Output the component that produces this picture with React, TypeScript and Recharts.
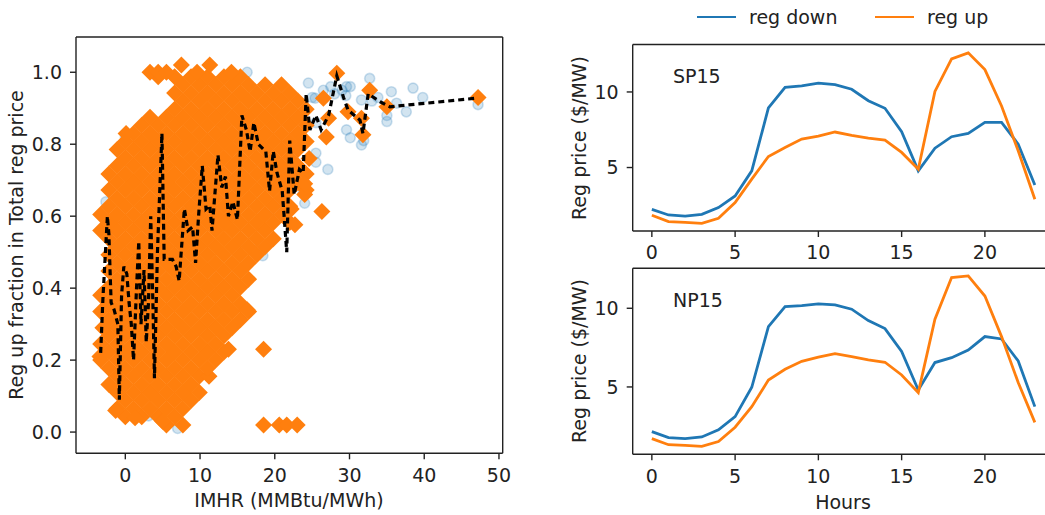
import React from "react";
import { ScatterChart, Scatter, LineChart, Line, XAxis, YAxis, ReferenceLine } from "recharts";

const FONT = "DejaVu Sans";
const INK = "#222";
const BLUE = "#1f77b4";
const ORANGE = "#ff7f0e";

// ---- right panels: hourly mean regulation prices ($/MW)
const hours = [0, 1, 2, 3, 4, 5, 6, 7, 8, 9, 10, 11, 12, 13, 14, 15, 16, 17, 18, 19, 20, 21, 22, 23];
const sp15RegDown = [2.23, 1.86, 1.79, 1.9, 2.35, 3.12, 4.78, 8.94, 10.31, 10.4, 10.58, 10.49, 10.18, 9.42, 8.92, 7.37, 4.78, 6.28, 7.04, 7.26, 7.99, 7.99, 6.55, 3.85];
const sp15RegUp = [1.84, 1.42, 1.37, 1.31, 1.64, 2.68, 4.23, 5.73, 6.33, 6.88, 7.08, 7.35, 7.12, 6.95, 6.81, 6.0, 4.89, 10.04, 12.19, 12.59, 11.48, 9.07, 6.11, 2.9];
const np15RegDown = [2.16, 1.78, 1.72, 1.82, 2.27, 3.11, 4.98, 8.83, 10.11, 10.17, 10.28, 10.21, 9.94, 9.22, 8.71, 7.25, 4.81, 6.55, 6.86, 7.35, 8.2, 8.05, 6.65, 3.75];
const np15RegUp = [1.72, 1.33, 1.29, 1.23, 1.53, 2.44, 3.75, 5.44, 6.12, 6.63, 6.89, 7.12, 6.93, 6.72, 6.57, 5.76, 4.64, 9.3, 11.95, 12.06, 10.78, 8.2, 5.28, 2.75];
const priceTicks = [5, 10];
const hourTicks = [0, 5, 10, 15, 20];

// ---- left panel: reg up fraction vs IMHR
const imhrTicks = [0, 10, 20, 30, 40, 50];
const fracTicks = [0, 0.2, 0.4, 0.6, 0.8, 1.0];

// all hours (mostly hidden under the orange markers)
const allHours: [number, number][] = [
  [-2.6, 0.64], [-3.0, 0.6], [0.0, 0.82], [1.5, 0.79], [-1.6, 0.48], [3.1, 0.045], [7.0, 0.01], [5.5, 0.02],
  [14.2, 0.99], [16.3, 1.0], [15.3, 0.52], [18.0, 0.52], [18.4, 0.49], [19.3, 0.6], [20.3, 0.63], [21.0, 0.72],
  [22.3, 0.75], [22.8, 0.72], [23.8, 0.665], [24.0, 0.636], [24.5, 0.97], [25.0, 0.93], [25.4, 0.928], [25.5, 0.86],
  [25.5, 0.775], [25.5, 0.75], [27.1, 0.73], [26.5, 0.95], [27.5, 0.96], [28.0, 0.94], [29.0, 0.95], [29.6, 0.96],
  [30.1, 0.96], [29.5, 0.935], [31.6, 0.923], [32.7, 0.983], [33.0, 0.92], [33.8, 0.93], [35.6, 0.946], [36.3, 0.914],
  [35.0, 0.88], [35.0, 0.863], [37.6, 0.89], [38.5, 0.956], [39.8, 0.93], [47.2, 0.91], [29.6, 0.84], [30.1, 0.818],
  [31.6, 0.798], [31.9, 0.81], [10.5, 0.3], [12.0, 0.6], [8.0, 0.8],
];

const selRowFrac = [
  0.02, 0.0425, 0.065, 0.0875, 0.11, 0.1325, 0.155, 0.1775, 0.2, 0.2225, 0.245, 0.2675, 0.29, 0.3125, 0.335,
  0.3575, 0.38, 0.4025, 0.425, 0.4475, 0.47, 0.4925, 0.515, 0.5375, 0.56, 0.5825, 0.605, 0.6275, 0.65, 0.6725,
  0.695, 0.7175, 0.74, 0.7625, 0.785, 0.8075, 0.83, 0.8525, 0.875, 0.8975, 0.92, 0.9425, 0.965, 0.9875, 1.0,
];
const selRowImhr = [
  [5.5, 7.7],
  [0, 2.2, 4.4, 6.6],
  [-1.1, 1.1, 3.3, 5.5, 7.7],
  [0, 2.2, 4.4, 6.6, 8.8],
  [-1.1, 1.1, 3.3, 5.5, 7.7, 9.9],
  [-2.2, 0, 2.2, 4.4, 6.6, 8.8],
  [-1.1, 1.1, 3.3, 5.5, 7.7, 9.9, 11.2],
  [-2.2, 0, 2.2, 4.4, 6.6, 8.8, 11],
  [-3.3, -1.1, 1.1, 3.3, 5.5, 7.7, 9.9, 12.1],
  [-2.2, 0, 2.2, 4.4, 6.6, 8.8, 11, 13.2],
  [-3.3, -1.1, 1.1, 3.3, 5.5, 7.7, 9.9, 12.1],
  [-2.2, 0, 2.2, 4.4, 6.6, 8.8, 11, 13.2],
  [-3.0, -1.1, 1.1, 3.3, 5.5, 7.7, 9.9, 12.1, 14.3],
  [-2.2, 0, 2.2, 4.4, 6.6, 8.8, 11, 13.2, 15.4],
  [-3.3, -1.1, 1.1, 3.3, 5.5, 7.7, 9.9, 12.1, 14.3, 16.5],
  [-2.2, 0, 2.2, 4.4, 6.6, 8.8, 11, 13.2, 15.4],
  [-3.3, -1.1, 1.1, 3.3, 5.5, 7.7, 9.9, 12.1, 14.3],
  [-2.2, 0, 2.2, 4.4, 6.6, 8.8, 11, 13.2, 15.4],
  [-1.1, 1.1, 3.3, 5.5, 7.7, 9.9, 12.1, 14.3, 16.5],
  [-2.2, 0, 2.2, 4.4, 6.6, 8.8, 11, 13.2, 15.4],
  [-1.1, 1.1, 3.3, 5.5, 7.7, 9.9, 12.1, 14.3, 16.5],
  [-2.2, 0, 2.2, 4.4, 6.6, 8.8, 11, 13.2, 15.4, 17.6],
  [-1.1, 1.1, 3.3, 5.5, 7.7, 9.9, 12.1, 14.3, 16.5, 18.7],
  [-2.2, 0, 2.2, 4.4, 6.6, 8.8, 11, 13.2, 15.4, 17.6, 19.8],
  [-3.3, -1.1, 1.1, 3.3, 5.5, 7.7, 9.9, 12.1, 14.3, 16.5, 18.7],
  [-2.2, 0, 2.2, 4.4, 6.6, 8.8, 11, 13.2, 15.4, 17.6, 19.8, 22],
  [-3.3, -1.1, 1.1, 3.3, 5.5, 7.7, 9.9, 12.1, 14.3, 16.5, 18.7, 20.9],
  [-2.2, 0, 2.2, 4.4, 6.6, 8.8, 11, 13.2, 15.4, 17.6, 19.8, 22],
  [-1.1, 1.1, 3.3, 5.5, 7.7, 9.9, 12.1, 14.3, 16.5, 18.7, 20.9],
  [-2.2, 0, 2.2, 4.4, 6.6, 8.8, 11, 13.2, 15.4, 17.6, 19.8, 22, 24.2],
  [-1.1, 1.1, 3.3, 5.5, 7.7, 9.9, 12.1, 14.3, 16.5, 18.7, 20.9, 23.1],
  [-2.2, 0, 2.2, 4.4, 6.6, 8.8, 11, 13.2, 15.4, 17.6, 19.8, 22, 24.2],
  [-1.1, 1.1, 3.3, 5.5, 7.7, 9.9, 12.1, 14.3, 16.5, 18.7, 20.9, 23.1],
  [0, 2.2, 4.4, 6.6, 8.8, 11, 13.2, 15.4, 17.6, 19.8, 22],
  [-1.1, 1.1, 3.3, 5.5, 7.7, 9.9, 12.1, 14.3, 16.5, 18.7, 20.9, 23.1],
  [0, 2.2, 4.4, 6.6, 8.8, 11, 13.2, 15.4, 17.6, 19.8, 22, 24.2],
  [1.1, 3.3, 5.5, 7.7, 9.9, 12.1, 14.3, 16.5, 18.7, 20.9, 23.1],
  [2.2, 4.4, 6.6, 8.8, 11, 13.2, 15.4, 17.6, 19.8, 22, 24.2],
  [3.3, 5.5, 7.7, 9.9, 12.1, 14.3, 16.5, 18.7, 20.9, 23.1],
  [6.6, 8.8, 11, 13.2, 15.4, 17.6, 19.8, 22, 24.2],
  [7.7, 9.9, 12.1, 14.3, 16.5, 18.7, 20.9, 23.1],
  [6.6, 8.8, 11, 13.2, 15.4, 17.6, 19.8, 22],
  [7.7, 9.9, 12.1, 14.3, 16.5, 18.7, 20.9],
  [4.4, 6.6, 8.8, 11, 13.2, 15.4],
  [3.3, 4.4, 5.5, 9.6],
];
const selOutliers: [number, number][] = [
  [0.1, 0.83], [-3.4, 0.21], [-1.3, 0.06], [1.3, 0.04], [5.0, 0.03], [7.5, 1.02], [11.3, 1.02], [14.2, 1.0],
  [13.8, 0.23], [16.3, 0.34], [18.5, 0.02], [20.6, 0.02], [21.6, 0.02], [23.0, 0.02], [18.5, 0.23], [22.2, 0.62],
  [22.7, 0.576], [26.3, 0.613], [24.0, 0.66], [24.0, 0.69], [24.6, 0.76], [26.9, 0.82], [27.2, 0.872],
  [26.5, 0.928], [28.3, 0.997], [29.8, 0.89], [31.6, 0.872], [31.8, 0.826], [32.7, 0.95], [35.0, 0.904], [47.2, 0.93],
];

// binned mean (dashed line)
const binImhr = [
  -3.3, -3.0, -2.4, -2.2, -1.9, -1.5, -1.0, -0.8, -0.5, -0.2, 0.2, 0.5, 0.8, 1.1, 1.5, 1.8, 2.1, 2.5, 2.8, 3.1,
  3.4, 3.7, 3.9, 4.3, 4.9, 5.2, 6.3, 6.8, 7.2, 7.9, 8.4, 9.0, 9.4, 9.8, 10.3, 10.8, 11.3, 11.6, 12.4, 12.9,
  13.4, 13.8, 14.4, 15.0, 15.6, 16.2, 16.7, 17.2, 17.8, 18.8, 19.3, 19.8, 20.3, 21.0, 21.6, 22.0, 22.6, 23.3,
  23.8, 24.2, 24.7, 25.5, 26.2, 27.2, 28.3, 29.2, 29.8, 31.4, 31.8, 32.5, 34.1, 35.4, 47.0,
];
const binFrac = [
  0.22, 0.37, 0.6, 0.55, 0.36, 0.34, 0.3, 0.09, 0.38, 0.46, 0.44, 0.36, 0.3, 0.2, 0.4, 0.53, 0.3, 0.45, 0.25, 0.36,
  0.6, 0.35, 0.15, 0.5, 0.83, 0.48, 0.48, 0.46, 0.42, 0.62, 0.56, 0.57, 0.47, 0.6, 0.74, 0.62, 0.63, 0.56, 0.77, 0.68,
  0.71, 0.6, 0.64, 0.59, 0.88, 0.84, 0.78, 0.86, 0.8, 0.78, 0.67, 0.78, 0.72, 0.67, 0.5, 0.81, 0.66, 0.73,
  0.72, 0.94, 0.84, 0.88, 0.84, 0.88, 0.99, 0.93, 0.895, 0.867, 0.83, 0.94, 0.918, 0.904, 0.928,
];

const allData = allHours.map(([x, y]) => ({ x, y }));
const selData = [
  ...selRowFrac.flatMap((y, i) => selRowImhr[i].map((x) => ({ x, y }))),
  ...selOutliers.map(([x, y]) => ({ x, y })),
];
const binData = binImhr.map((x, i) => ({ x, y: binFrac[i] }));

const sp15Data = hours.map((h, i) => ({ hour: h, down: sp15RegDown[i], up: sp15RegUp[i] }));
const np15Data = hours.map((h, i) => ({ hour: h, down: np15RegDown[i], up: np15RegUp[i] }));

const tickStyle = { fontSize: 19, fill: INK, fontFamily: FONT };
const spine = { stroke: INK, strokeWidth: 1.4 };

const Diamond = (props: any) => {
  const { cx, cy } = props;
  if (cx == null || cy == null) return <g />;
  const r = 8.5;
  return <path d={`M${cx} ${cy - r}L${cx + r} ${cy}L${cx} ${cy + r}L${cx - r} ${cy}Z`} fill={ORANGE} />;
};

const FaintDot = (props: any) => {
  const { cx, cy } = props;
  if (cx == null || cy == null) return <g />;
  return <circle cx={cx} cy={cy} r={5} fill="rgba(31,119,180,0.2)" stroke="rgba(31,119,180,0.22)" strokeWidth={1.6} />;
};

const Nothing = () => <g />;

const txt = (extra: React.CSSProperties): React.CSSProperties => ({
  position: "absolute",
  fontFamily: FONT,
  fontSize: 19,
  color: INK,
  whiteSpace: "nowrap",
  lineHeight: 1,
  ...extra,
});

const PricePanel = ({ data, domain, height, margin, xHeight }: any) => (
  <LineChart width={500} height={height} data={data} margin={margin} style={{ fontFamily: FONT }}>
    <XAxis
      type="number"
      dataKey="hour"
      domain={[-1.15, 24.15]}
      ticks={hourTicks}
      allowDataOverflow
      height={xHeight}
      tickSize={6}
      tickMargin={9}
      axisLine={spine}
      tickLine={spine}
      tick={tickStyle}
    />
    <YAxis
      type="number"
      domain={domain}
      ticks={priceTicks}
      allowDataOverflow
      width={40}
      tickSize={6}
      tickMargin={8}
      axisLine={spine}
      tickLine={spine}
      tick={tickStyle}
    />
    <ReferenceLine y={domain[1]} stroke={INK} strokeWidth={1.4} />
    <Line type="linear" dataKey="down" stroke={BLUE} strokeWidth={2.8} dot={false} isAnimationActive={false} />
    <Line type="linear" dataKey="up" stroke={ORANGE} strokeWidth={2.8} dot={false} isAnimationActive={false} />
  </LineChart>
);

export default function App() {
  return (
    <div style={{ position: "absolute", left: 0, top: 0, width: 1045, height: 515, overflow: "hidden", background: "#fff" }}>
      {/* left: scatter */}
      <div style={{ position: "absolute", left: 0, top: 0 }}>
        <ScatterChart width={520} height={515} margin={{ top: 37, right: 17.3, bottom: 31.7, left: 36 }} style={{ fontFamily: FONT }}>
          <XAxis
            type="number"
            dataKey="x"
            domain={[-6.6, 50.5]}
            ticks={imhrTicks}
            allowDataOverflow
            height={30}
            tickSize={6}
            tickMargin={9}
            axisLine={spine}
            tickLine={spine}
            tick={tickStyle}
          />
          <YAxis
            type="number"
            dataKey="y"
            domain={[-0.059, 1.098]}
            ticks={fracTicks}
            tickFormatter={(v: number) => v.toFixed(1)}
            allowDataOverflow
            width={40}
            tickSize={6}
            tickMargin={8}
            axisLine={spine}
            tickLine={spine}
            tick={tickStyle}
          />
          <Scatter data={allData} shape={FaintDot} isAnimationActive={false} />
          <Scatter data={selData} shape={Diamond} isAnimationActive={false} />
          <Scatter
            data={binData}
            shape={Nothing}
            line={{ stroke: "#000", strokeWidth: 3.2, strokeDasharray: "6 4" }}
            isAnimationActive={false}
          />
          <ReferenceLine y={1.098} stroke={INK} strokeWidth={1.4} />
          <ReferenceLine x={50.5} stroke={INK} strokeWidth={1.4} />
        </ScatterChart>
      </div>
      <div style={txt({ left: 16, top: 245, transform: "translate(-50%, -50%) rotate(-90deg)" })}>
        Reg up fraction in Total reg price
      </div>
      <div style={txt({ left: 289, top: 500, transform: "translate(-50%, -50%)" })}>IMHR (MMBtu/MWh)</div>

      {/* right: hourly prices */}
      <div style={{ position: "absolute", left: 560, top: 0 }}>
        <PricePanel data={sp15Data} domain={[0.8, 13.14]} height={262} margin={{ top: 44.5, right: 6, bottom: 0, left: 32.7 }} xHeight={31} />
      </div>
      <div style={{ position: "absolute", left: 560, top: 240 }}>
        <PricePanel data={np15Data} domain={[0.72, 12.54]} height={275} margin={{ top: 28.3, right: 6, bottom: 30.7, left: 32.7 }} xHeight={30} />
      </div>
      <div style={txt({ left: 673, top: 76, transform: "translateY(-50%)" })}>SP15</div>
      <div style={txt({ left: 673, top: 300, transform: "translateY(-50%)" })}>NP15</div>
      <div style={txt({ left: 579, top: 138, transform: "translate(-50%, -50%) rotate(-90deg)" })}>Reg price ($/MW)</div>
      <div style={txt({ left: 579, top: 361, transform: "translate(-50%, -50%) rotate(-90deg)" })}>Reg price ($/MW)</div>
      <div style={txt({ left: 843, top: 502, transform: "translate(-50%, -50%)" })}>Hours</div>

      {/* legend */}
      <div style={{ position: "absolute", left: 697, top: 15.5, width: 39, height: 2.8, background: BLUE }} />
      <div style={txt({ left: 749, top: 17, transform: "translateY(-50%)" })}>reg down</div>
      <div style={{ position: "absolute", left: 875, top: 15.5, width: 39, height: 2.8, background: ORANGE }} />
      <div style={txt({ left: 927, top: 17, transform: "translateY(-50%)" })}>reg up</div>
    </div>
  );
}
